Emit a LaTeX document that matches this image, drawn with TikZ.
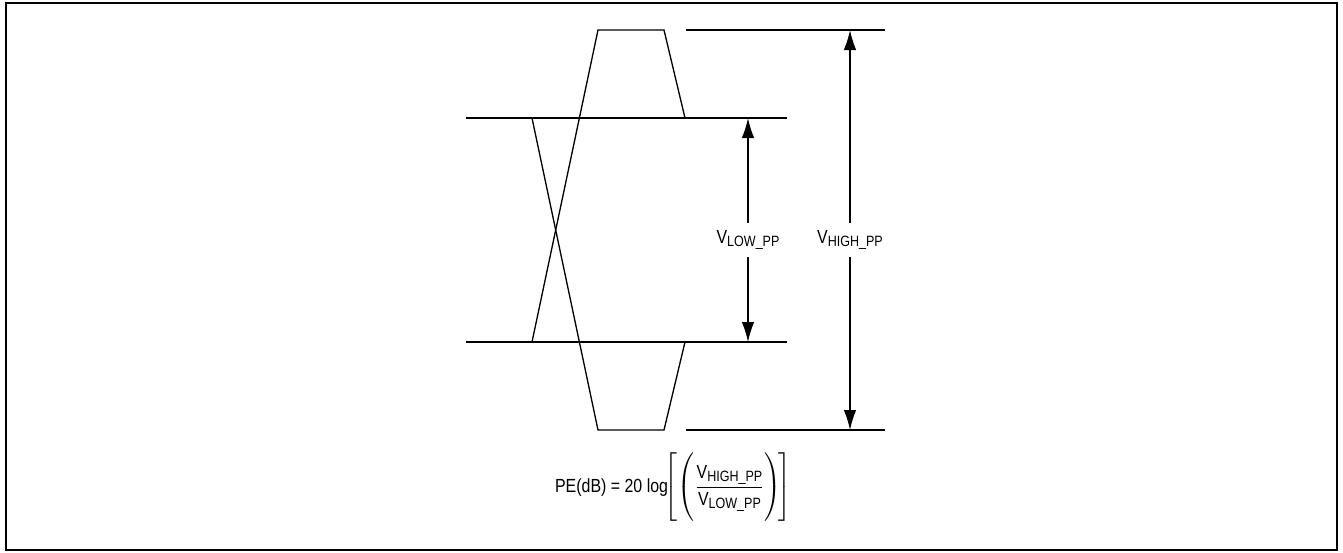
\documentclass[tikz,border=0pt]{standalone}
\usepackage{fontspec}
\setmainfont{Liberation Sans}[FakeStretch=0.84]
\usepackage{amsmath}
\usetikzlibrary{arrows.meta,positioning}
\newcommand{\vsub}[1]{V\raisebox{-0.35ex}{\fontsize{8.5}{9}\selectfont #1}}

\begin{document}
\begin{tikzpicture}[x=0.02cm, y=-0.02cm,
    wave/.style={line width=0.75pt, line join=miter},
    level/.style={line width=0.75pt},
    arr/.style={-{Latex[length=4mm, width=2.5mm]}, line width=0.75pt},
    lbl/.style={inner sep=4pt, font=\fontsize{10.8}{12}\selectfont},
    frame/.style={line width=1.3pt}
]
\useasboundingbox (0,0) rectangle (1343,552);
\draw[frame] (6,3) rectangle (1337,550);

%% ---- LEVEL LINES ----
\draw[level] (466,118) -- (787,118);
\draw[level] (466,342) -- (787,342);
\draw[level] (686,30)  -- (885,30);
\draw[level] (686,430) -- (885,430);

%% ---- WAVEFORMS ----
\draw[wave] (532,342) -- (598,30) -- (664,30) -- (685,118);
\draw[wave] (532,118) -- (598,430) -- (664,430) -- (685,342);

%% ---- DIMENSIONS ----
\coordinate (lowtop)  at (748,118);
\coordinate (lowbot)  at (748,342);
\coordinate (hightop) at (850,30);
\coordinate (highbot) at (850,430);
\node[lbl] (vlow)  at (748,240) {\vsub{LOW\_PP}};
\node[lbl] (vhigh) at (850,240) {\vsub{HIGH\_PP}};
\draw[arr] (vlow.north)  -- (lowtop);
\draw[arr] (vlow.south)  -- (lowbot);
\draw[arr] (vhigh.north) -- (hightop);
\draw[arr] (vhigh.south) -- (highbot);

%% ---- FORMULA ----
\node[font=\fontsize{10.8}{12}\selectfont] (pe) at (673,489)
  {PE(dB) = 20 log$\!\left[\rule[-19pt]{0pt}{38pt}\!\left(\rule[-16.5pt]{0pt}{33pt}\dfrac{\text{\vsub{HIGH\_PP}}}{\text{\vsub{LOW\_PP}}}\right)\!\right]$};

\end{tikzpicture}
\end{document}
